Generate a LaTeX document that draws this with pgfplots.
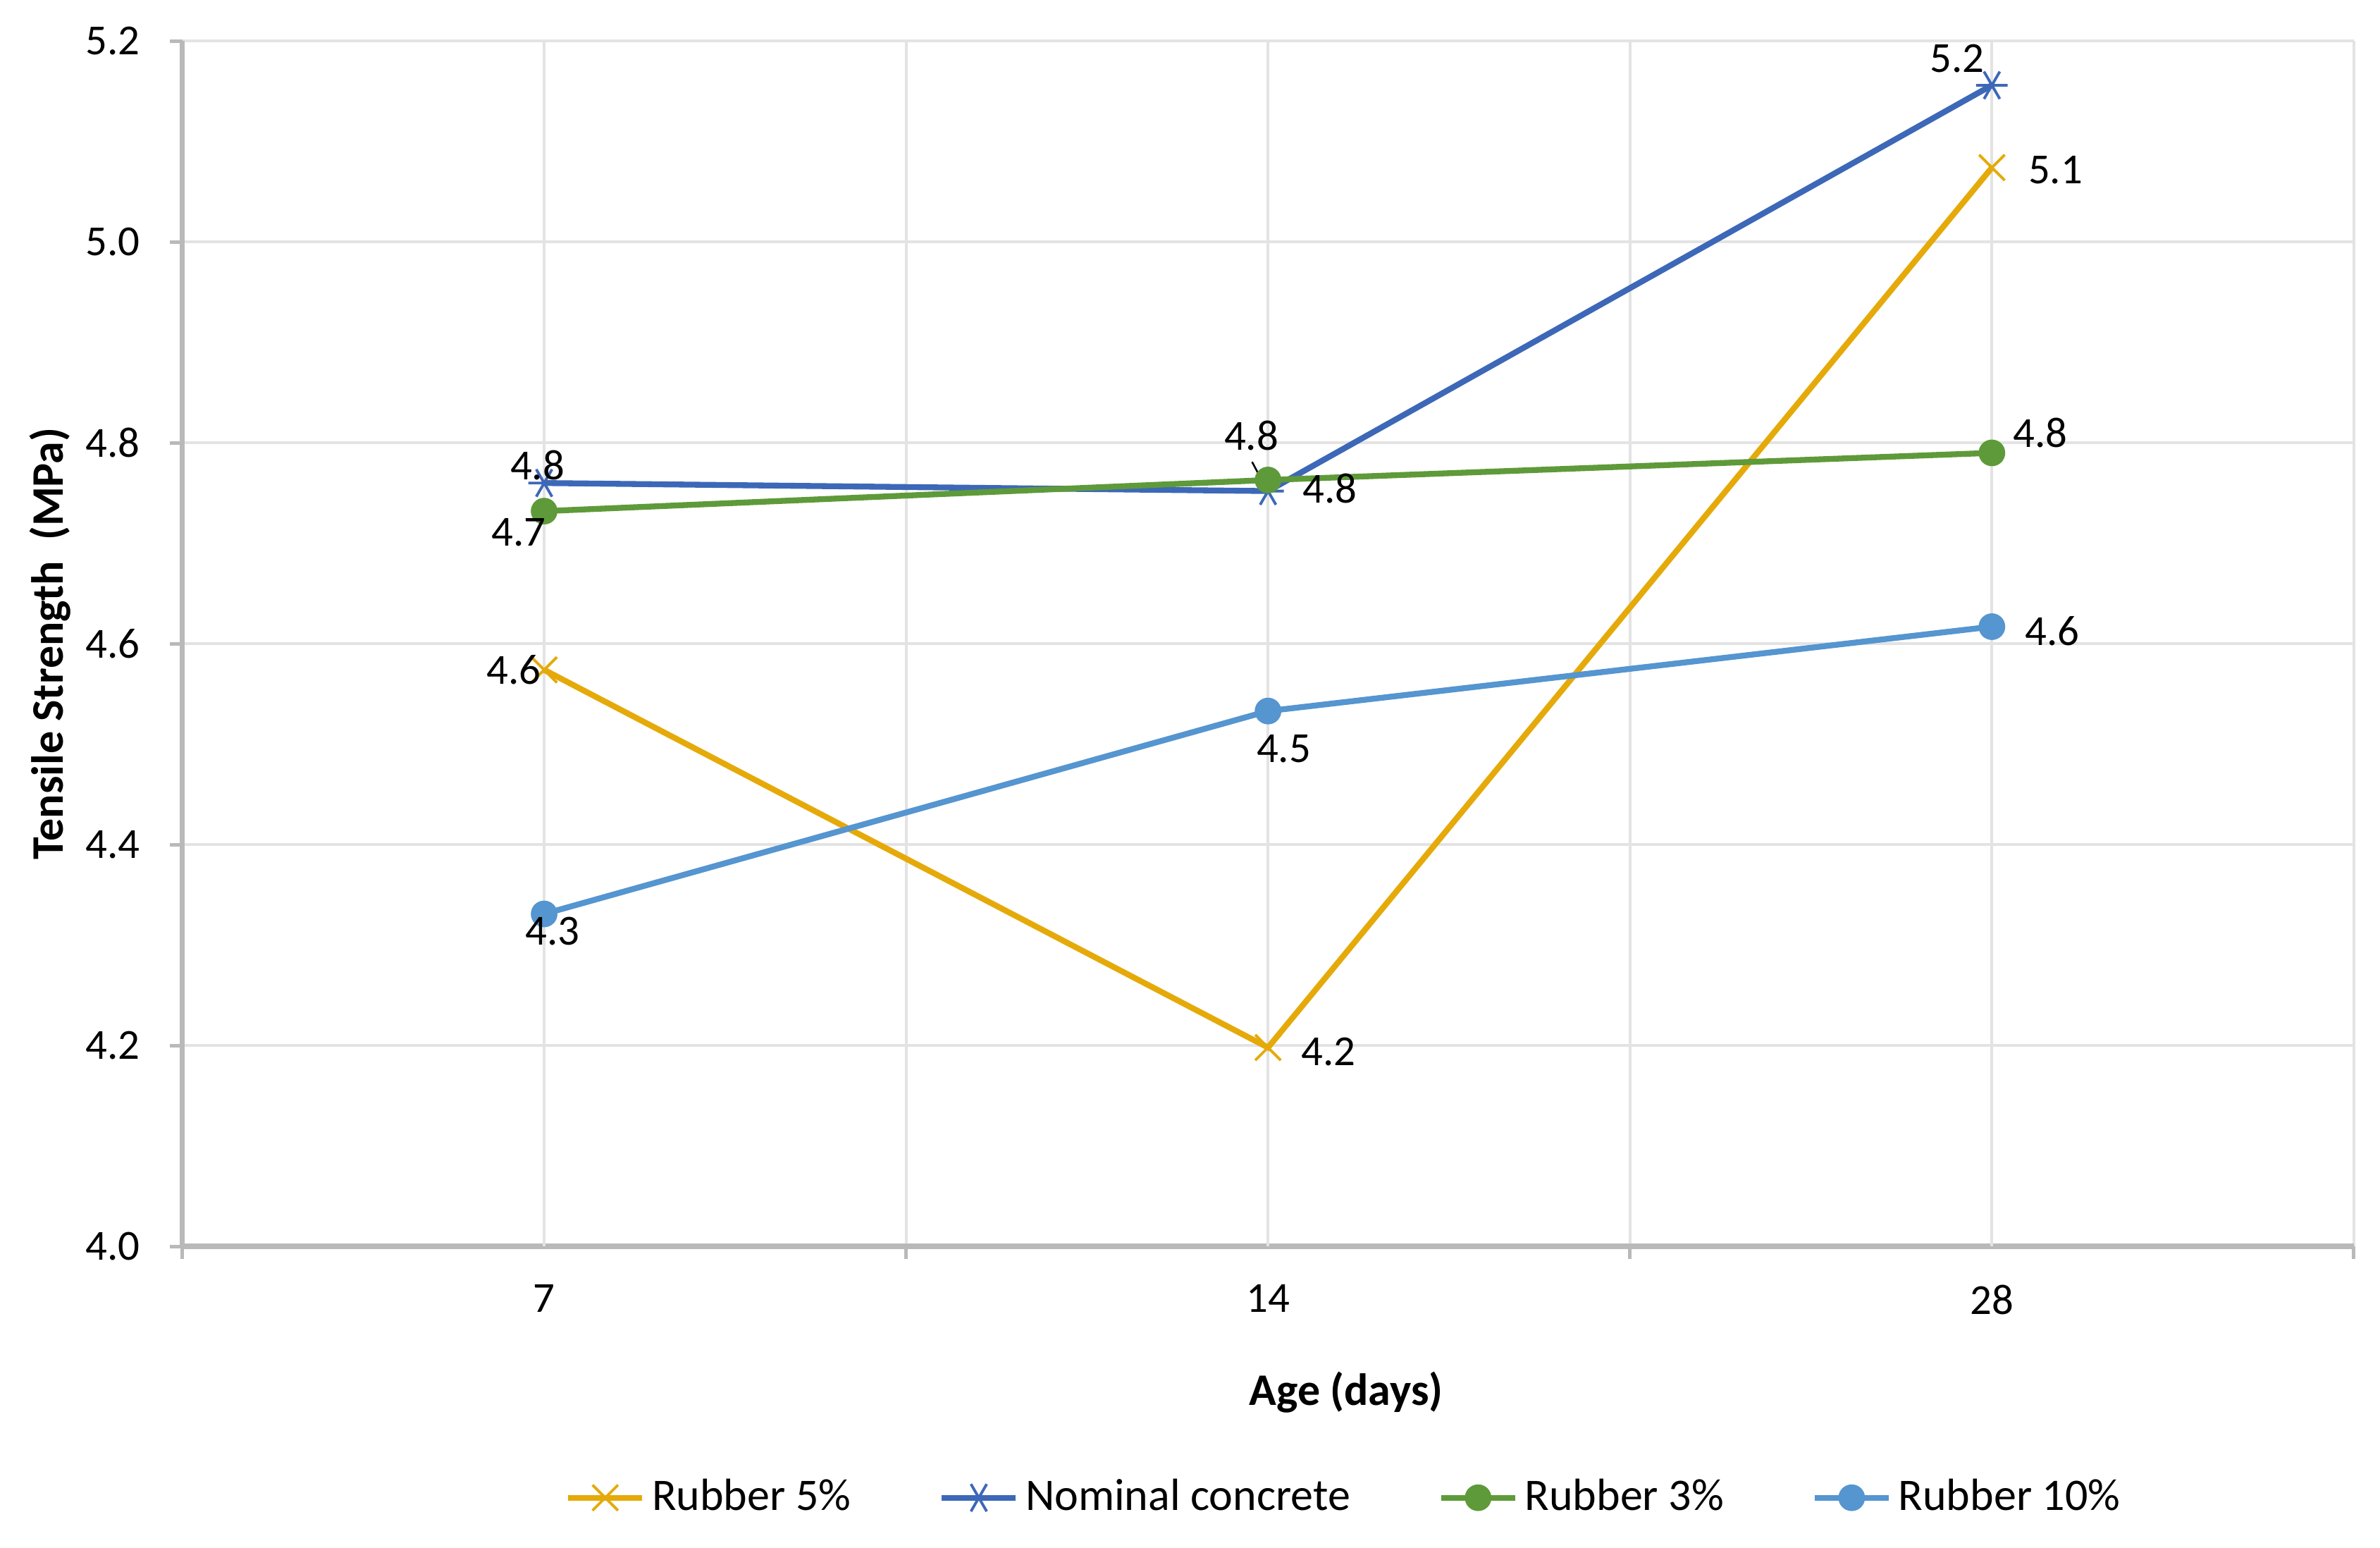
\documentclass[border=0pt]{standalone}
\usepackage{pgfplots}
\pgfplotsset{compat=1.18}
\usepackage{pgfplotstable}
\usepackage{fontspec}
\setmainfont{Carlito}

\definecolor{cfive}{RGB}{229,170,10}
\definecolor{cnom}{RGB}{61,104,184}
\definecolor{cthree}{RGB}{94,154,58}
\definecolor{cten}{RGB}{85,149,208}

% x: 0 = 7 days, 1 = 14 days, 2 = 28 days; dx/dy move the data label centre (pt)
\pgfplotstableread{
x y     dx    dy
0 4.574 -6.7   0
1 4.198 13.4  -1
2 5.074 14.1  -0.5
}\rubberfive
\pgfplotstableread{
x y     dx    dy
0 4.760 -1.5   4.0
1 4.752 13.7   0.5
2 5.156 -7.7   6.0
}\nominal
\pgfplotstableread{
x y     dx    dy
0 4.732 -5.6  -4.7
1 4.763 -3.7   9.8
2 4.790 10.7   4.4
}\rubberthree
\pgfplotstableread{
x y     dx    dy
0 4.331  1.9  -3.9
1 4.533  3.5  -8.4
2 4.617 13.4  -1
}\rubberten

\begin{document}
\begin{tikzpicture}
\useasboundingbox (0,0) rectangle (527.7pt,343pt);
\begin{axis}[
    at={(40.4pt,66.7pt)}, anchor=south west,
    scale only axis, width=481.5pt, height=267.2pt,
    xmin=-0.5, xmax=2.5, ymin=4, ymax=5.2,
    xtick={-0.5,0.5,1.5,2.5}, xticklabels={},
    extra x ticks={0,1,2}, extra x tick labels={7,14,28},
    extra x tick style={major tick length=0pt, grid=major,
        xticklabel style={yshift=-5pt}},
    ytick={4,4.2,4.4,4.6,4.8,5,5.2},
    /pgf/number format/assume math mode=true,
    yticklabel style={xshift=-3pt, /pgf/number format/.cd, fixed, fixed zerofill, precision=1},
    tick label style={font=\fontsize{9.5}{11}\selectfont},
    tick align=outside,
    major tick length=2.8pt,
    tick style={gray!55, line width=0.8pt},
    axis lines*=left,
    axis line style={-, gray!55, line width=1.2pt},
    xmajorgrids, ymajorgrids,
    major grid style={gray!22, line width=0.6pt},
    xlabel={\bfseries Age (days)},
    ylabel={\bfseries Tensile Strength\ \ (MPa)},
    label style={font=\fontsize{10}{12}\selectfont},
    xlabel style={at={(axis description cs:0.536,-0.121)}, anchor=center},
    ylabel style={at={(axis description cs:-0.0609,0.5)}, anchor=center},
    legend columns=4,
    legend style={at={(axis description cs:0.536,-0.2085)}, anchor=center,
        draw=none, fill=none, font=\fontsize{10}{12}\selectfont,
        nodes={inner xsep=1.5pt},
        /tikz/every even column/.append style={column sep=18pt}},
    legend image code/.code={
        \draw[mark repeat=2,mark phase=2,#1] plot coordinates {(0pt,0pt) (8.2pt,0pt) (16.4pt,0pt)};
    },
    every axis plot/.append style={line width=1.3pt},
    nodes near coords={\pgfmathprintnumber[fixed,precision=1]{\pgfplotspointmeta}},
    visualization depends on={\thisrow{dx} \as \ldx},
    visualization depends on={\thisrow{dy} \as \ldy},
    every node near coord/.append style={font=\fontsize{9.5}{11}\selectfont, text=black,
        anchor=center, xshift=\ldx pt, yshift=\ldy pt},
]
\addplot[cfive, mark=x, mark size=4pt, mark options={line width=0.6pt}]
    table[x=x, y=y, meta=y] {\rubberfive};
\addlegendentry{Rubber 5\%}
\addplot[cnom, mark=asterisk, mark size=3.5pt, mark options={line width=0.6pt, rotate=90}]
    table[x=x, y=y, meta=y] {\nominal};
\addlegendentry{Nominal concrete}
\addplot[cthree, mark=*, mark size=2.3pt]
    table[x=x, y=y, meta=y] {\rubberthree};
\addlegendentry{Rubber 3\%}
\addplot[cten, mark=*, mark size=2.3pt]
    table[x=x, y=y, meta=y] {\rubberten};
\addlegendentry{Rubber 10\%}
\draw[black, line width=0.4pt] (axis cs:0.978,4.781) -- (axis cs:0.996,4.7565);
\end{axis}
\end{tikzpicture}
\end{document}
